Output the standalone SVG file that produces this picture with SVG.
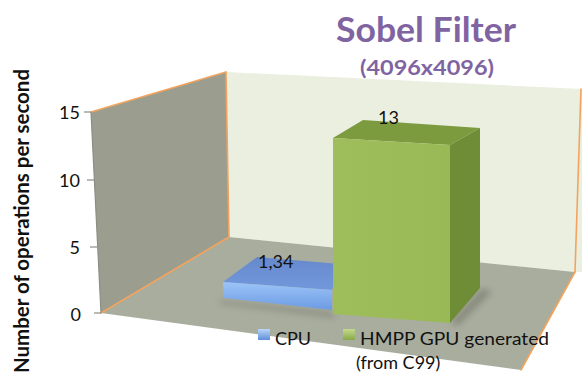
<svg xmlns="http://www.w3.org/2000/svg" width="582" height="378" viewBox="0 0 582 378">
  <style>
    .edge { stroke: #f2a45e; stroke-width: 1.6; fill: none; stroke-linecap: round; }
    .tick { stroke: #8c8e84; stroke-width: 1.2; }
    .num { font-family: Lato, "Open Sans", "Liberation Sans", sans-serif; font-size: 18px; fill: #111; }
    .purple { font-family: Lato, "Open Sans", "Liberation Sans", sans-serif; font-weight: bold; fill: #8064a2; }
  </style>
  <defs>
    <linearGradient id="blueFront" x1="0" y1="0" x2="0" y2="1">
      <stop offset="0" stop-color="#9cc4f8"/>
      <stop offset="1" stop-color="#6c9be3"/>
    </linearGradient>
    <linearGradient id="blueTop" x1="0" y1="0" x2="0" y2="1">
      <stop offset="0" stop-color="#6689cc"/>
      <stop offset="1" stop-color="#7298dc"/>
    </linearGradient>
    <linearGradient id="greenFront" x1="0" y1="0" x2="1" y2="0">
      <stop offset="0" stop-color="#9ebe5c"/>
      <stop offset="1" stop-color="#98b956"/>
    </linearGradient>
    <linearGradient id="blueKey" x1="0" y1="0" x2="0" y2="1">
      <stop offset="0" stop-color="#b9d6fb"/>
      <stop offset="1" stop-color="#5f8fd8"/>
    </linearGradient>
    <linearGradient id="greenKey" x1="0" y1="0" x2="0" y2="1">
      <stop offset="0" stop-color="#c4da8e"/>
      <stop offset="1" stop-color="#88a94a"/>
    </linearGradient>
    <filter id="soft" x="-20%" y="-50%" width="140%" height="200%">
      <feGaussianBlur stdDeviation="3"/>
    </filter>
  </defs>

  <rect width="582" height="378" fill="#ffffff"/>

  <!-- back wall -->
  <g id="back-wall">
    <polygon points="226,72 582,89 582,272 575,272 229,237" fill="#ebefe0"/>
  </g>

  <!-- floor -->
  <g id="floor">
    <polygon points="101,313 229,237 575,272 521,370" fill="#a9ad9e"/>
  </g>

  <!-- left side wall -->
  <g id="left-wall">
    <polygon points="91,112 226,72 229,237 101,313" fill="#9b9d8f"/>
  </g>

  <!-- frame edges -->
  <g id="frame-edges">
    <line class="edge" x1="91" y1="112" x2="226" y2="72"/>
    <line class="edge" x1="226" y1="72" x2="229" y2="237"/>
    <line class="edge" x1="101" y1="313" x2="229" y2="237"/>
    <line class="edge" x1="581" y1="89" x2="575" y2="272"/>
    <line class="edge" x1="575" y1="272" x2="521" y2="370"/>
  </g>

  <!-- value axis -->
  <g id="axis">
    <line class="tick" x1="91" y1="112" x2="101" y2="313"/>
    <line class="tick" x1="84" y1="112" x2="91" y2="112"/>
    <line class="tick" x1="87" y1="180" x2="94" y2="180"/>
    <line class="tick" x1="90" y1="247" x2="97" y2="247"/>
    <line class="tick" x1="94" y1="313" x2="101" y2="313"/>
    <text class="num" x="80" y="119" text-anchor="end">15</text>
    <text class="num" x="80" y="187" text-anchor="end">10</text>
    <text class="num" x="80" y="254" text-anchor="end">5</text>
    <text class="num" x="81" y="321" text-anchor="end">0</text>
    <text x="0" y="0" transform="translate(29,221) rotate(-90)" text-anchor="middle" font-family="Lato, 'Open Sans', 'Liberation Sans', sans-serif" font-size="20" font-weight="bold" fill="#111" textLength="304" lengthAdjust="spacingAndGlyphs">Number of operations per second</text>
  </g>

  <!-- CPU bar -->
  <g id="bar-cpu">
    <polygon points="218,300 332,312 336,318 222,304" fill="#6f7266" opacity="0.5" filter="url(#soft)"/>
    <polygon points="223,282 257,257 340,264 332,290" fill="url(#blueTop)"/>
    <polygon points="223,282 332,290 332,310 224,298" fill="url(#blueFront)"/>
    <text class="num" x="258" y="268">1,34</text>
  </g>

  <!-- GPU bar -->
  <g id="bar-gpu">
    <polygon points="450,322 482,288 492,292 458,326" fill="#6f7266" opacity="0.55" filter="url(#soft)"/>
    <polygon points="333,138 363,120 480,128 450,145" fill="#7c9b3f"/>
    <polygon points="450,145 480,128 480,288 450,323" fill="#6e8d36"/>
    <polygon points="333,138 450,145 450,323 333,314" fill="url(#greenFront)"/>
    <text class="num" x="378" y="124">13</text>
  </g>

  <!-- legend -->
  <g id="legend">
    <rect x="258" y="329" width="12" height="11" fill="url(#blueKey)"/>
    <text class="num" x="275" y="345">CPU</text>
    <rect x="343" y="329" width="12" height="11" fill="url(#greenKey)"/>
    <text class="num" x="360" y="345" textLength="189" lengthAdjust="spacingAndGlyphs">HMPP GPU generated</text>
    <text class="num" x="356" y="369">(from C99)</text>
  </g>

  <!-- title -->
  <g id="title">
    <text class="purple" x="426" y="42" font-size="35" text-anchor="middle" textLength="180" lengthAdjust="spacingAndGlyphs">Sobel Filter</text>
    <text class="purple" x="427" y="75" font-size="21" text-anchor="middle" textLength="134" lengthAdjust="spacingAndGlyphs">(4096x4096)</text>
  </g>
</svg>
